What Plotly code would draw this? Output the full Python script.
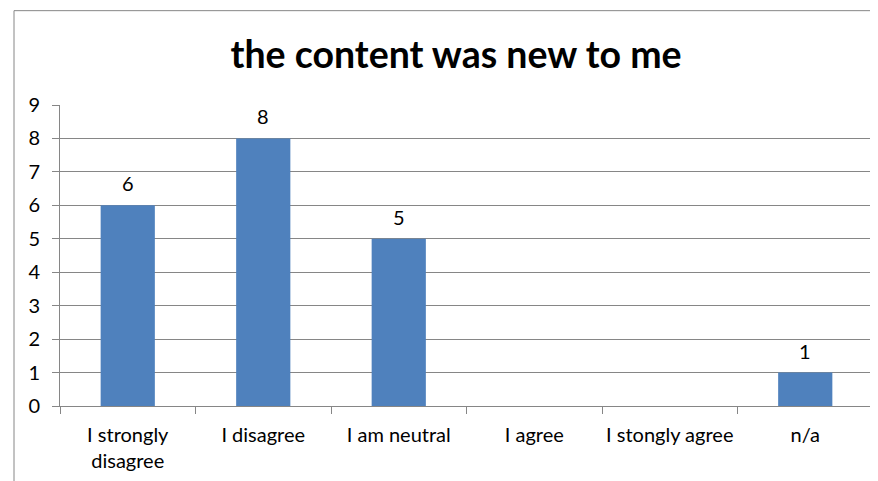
import plotly.graph_objects as go

categories = ["I strongly<br>disagree", "I disagree", "I am neutral", "I agree", "I stongly agree", "n/a"]
values = [6, 8, 5, 0, 0, 1]
labels = ["6", "8", "5", "", "", "1"]
y_ticks = [0, 1, 2, 3, 4, 5, 6, 7, 8, 9]
title_text = "the content was new to me"

OFF = 8  # default body margin of the html page
W, H = 878 - OFF, 481 - OFF
L, T = 60 - OFF, 104.5 - OFF
R = W - (873 - OFF)
B = H - (406 - OFF)

fig = go.Figure()
fig.add_trace(go.Bar(
    x=categories, y=values,
    marker=dict(color="#4F81BD", line=dict(width=0)),
    width=0.4, cliponaxis=False, hoverinfo="x+y",
))

for c, v, t in zip(categories, values, labels):
    if t:
        fig.add_annotation(x=c, y=v, text=t, showarrow=False, yanchor="bottom",
                           yshift=8, font=dict(family="Lato", size=20, color="#000000"))

pw = W - L - R
ph = H - T - B
fig.update_layout(
    width=W, height=H, autosize=False,
    margin=dict(l=L, r=R, t=T, b=B, pad=0, autoexpand=False),
    paper_bgcolor="white", plot_bgcolor="white",
    showlegend=False,
    font=dict(family="Lato", size=20, color="#000000"),
    title=dict(text="<b>" + title_text + "</b>", x=(456 - OFF) / W, xanchor="center",
               y=1 - (55 - OFF) / H, yanchor="middle",
               font=dict(family="Lato", size=37.5, color="#000000")),
    xaxis=dict(type="category", showline=True, linecolor="#868686", linewidth=1,
               ticks="outside", tickson="boundaries", ticklen=7, tickcolor="#868686",
               showgrid=False, tickfont=dict(family="Lato", size=20),
               tickangle=0, automargin=False, ticklabelstandoff=11),
    yaxis=dict(range=[0, 9], tickvals=y_ticks, showline=True, linecolor="#868686", linewidth=1,
               ticks="outside", ticklen=7, tickcolor="#868686",
               showgrid=True, gridcolor="#868686", gridwidth=1, zeroline=False,
               tickfont=dict(family="Lato", size=20), ticklabelstandoff=8, automargin=False),
    shapes=[dict(type="rect", xref="paper", yref="paper",
                 x0=(14 - OFF - L) / pw, x1=(W + 30 - L) / pw,
                 y0=-(B + 30) / ph, y1=(ph + T - (10 - OFF)) / ph,
                 line=dict(color="#868686", width=1), fillcolor="rgba(0,0,0,0)", layer="below")],
)

fig.write_html("out.html")
